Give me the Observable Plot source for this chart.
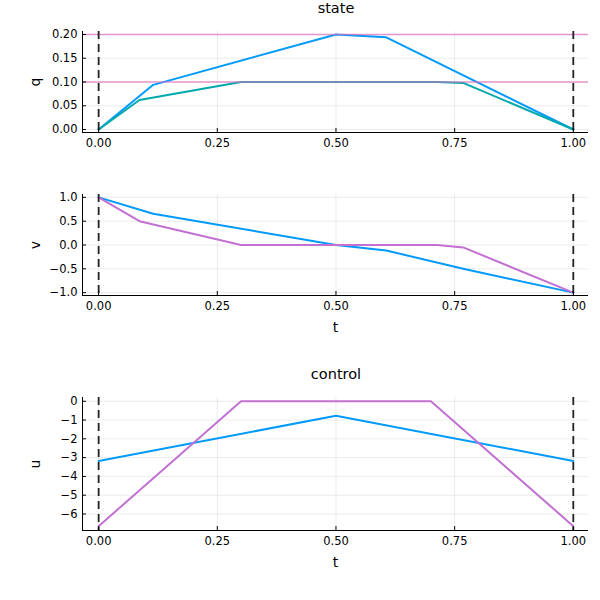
<!DOCTYPE html>
<html>
<head>
<meta charset="utf-8">
<script src="https://cdn.jsdelivr.net/npm/d3@7"></script>
<script src="https://cdn.jsdelivr.net/npm/@observablehq/plot@0.6"></script>
<style>
  html, body { margin: 0; padding: 0; background: #fff; }
  #wrap { position: relative; width: 600px; height: 600px; background: #fff; font-family: "DejaVu Sans", sans-serif; }
  #wrap svg { position: absolute; left: 0; }
  .ttl { position: absolute; font-size: 14.5px; color: #000; transform: translate(-50%, -50%); white-space: nowrap; }
</style>
</head>
<body>
<div id="wrap"></div>
<script>
// ---- data ----
const xTicks = [0, 0.25, 0.5, 0.75, 1];
const boundaryT = [0, 1];

// state q
const q1T = [0, 0.115, 0.5, 0.606, 1];
const q1 = [0, 0.094, 0.2, 0.194, 0];
const q2T = [0, 0.086, 0.3, 0.713, 0.768, 1];
const q2 = [0, 0.062, 0.1, 0.1, 0.098, 0];
const qBounds = [0.1, 0.2];
const qTicks = [0, 0.05, 0.1, 0.15, 0.2];

// state v
const v1T = [0, 0.115, 0.5, 0.606, 0.768, 1];
const v1 = [1, 0.657, 0, -0.116, -0.5, -1];
const v2T = [0, 0.086, 0.3, 0.713, 0.768, 1];
const v2 = [1, 0.5, 0, 0, -0.05, -1];
const vTicks = [-1, -0.5, 0, 0.5, 1];

// control u
const u1T = [0, 0.5, 1];
const u1 = [-3.18, -0.77, -3.18];
const u2T = [0, 0.3, 0.7, 1];
const u2 = [-6.65, 0, 0, -6.65];
const uTicks = [-6, -5, -4, -3, -2, -1, 0];

const BLUE = "#009AFA", TEAL = "#00A9AD", PURPLE = "#C271D2", PINK = "#e070c0";

const xDomain = [-0.034, 1.032];
const toRows = (T, V) => T.map((t, i) => ({t, v: V[i]}));
const minus = s => s.replace("-", "\u2212");

function panel({top, height, marginTop, marginBottom, yDomain, yTicks, yFmt, yLabel, xLabel, series, over = []}) {
  const fmtY = d => minus(yFmt(d));
  const marks = [
    Plot.gridX(xTicks, {stroke: "#000", strokeOpacity: 0.08}),
    Plot.gridY(yTicks, {stroke: "#000", strokeOpacity: 0.08}),
    ...series.map(s => Plot.line(toRows(s.T, s.V), {x: "t", y: "v", stroke: s.color, strokeWidth: 2})),
    ...over,
    Plot.ruleX(boundaryT, {stroke: "#222", strokeWidth: 1.8, strokeDasharray: "8,5"}),
    Plot.ruleX([xDomain[0]], {stroke: "#000", strokeWidth: 1}),
    Plot.ruleY([yDomain[0]], {stroke: "#000", strokeWidth: 1}),
    Plot.axisX(xTicks, {tickSize: 0, tickPadding: 6, tickFormat: d3.format(".2f"), fontSize: 11.5,
      label: xLabel, labelAnchor: "center", labelArrow: "none", labelOffset: 36}),
    Plot.axisX(xTicks, {tickSize: -4, text: null, label: null}),
    Plot.axisY(yTicks, {tickSize: 0, tickPadding: 5, tickFormat: fmtY, fontSize: 11.5,
      label: yLabel, labelAnchor: "center", labelArrow: "none", labelOffset: 52}),
    Plot.axisY(yTicks, {tickSize: -4, text: null, label: null})
  ];
  const svg = Plot.plot({
    width: 600, height,
    marginLeft: 82, marginRight: 12, marginTop, marginBottom,
    style: {fontFamily: "DejaVu Sans, sans-serif", fontSize: "11.5px", color: "#000", background: "transparent"},
    x: {domain: xDomain},
    y: {domain: yDomain},
    marks
  });
  svg.style.top = top + "px";
  svg.querySelectorAll("g[aria-label$='axis label'] text").forEach(t => t.setAttribute("font-size", 14));
  return svg;
}

const wrap = document.getElementById("wrap");

wrap.appendChild(panel({
  top: 0, height: 150, marginTop: 31, marginBottom: 18,
  yDomain: [-0.0063, 0.2063], yTicks: qTicks, yFmt: d3.format(".2f"), yLabel: "q", xLabel: null,
  series: [{T: q1T, V: q1, color: BLUE}, {T: q2T, V: q2, color: TEAL}],
  over: [Plot.ruleY(qBounds, {stroke: PINK, strokeWidth: 1.3, strokeOpacity: 0.7})]
}));

wrap.appendChild(panel({
  top: 150, height: 190, marginTop: 44, marginBottom: 45,
  yDomain: [-1.06, 1.06], yTicks: vTicks, yFmt: d3.format(".1f"), yLabel: "v", xLabel: "t",
  series: [{T: v1T, V: v1, color: BLUE}, {T: v2T, V: v2, color: PURPLE}]
}));

wrap.appendChild(panel({
  top: 340, height: 260, marginTop: 57, marginBottom: 70,
  yDomain: [-6.88, 0.2], yTicks: uTicks, yFmt: d3.format("d"), yLabel: "u", xLabel: "t",
  series: [{T: u1T, V: u1, color: BLUE}, {T: u2T, V: u2, color: PURPLE}]
}));

function title(text, x, y) {
  const d = document.createElement("div");
  d.className = "ttl";
  d.textContent = text;
  d.style.left = x + "px";
  d.style.top = y + "px";
  wrap.appendChild(d);
}
title("state", 336, 8);
title("control", 336, 374);
</script>
</body>
</html>
